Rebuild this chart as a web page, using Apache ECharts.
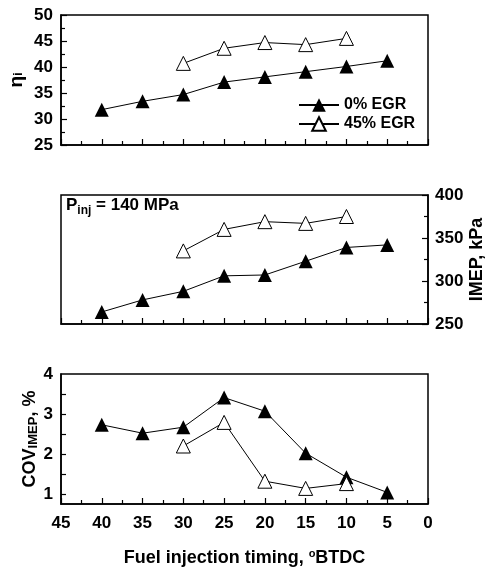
<!DOCTYPE html>
<html><head><meta charset="utf-8">
<script src="https://cdn.jsdelivr.net/npm/echarts@6/dist/echarts.min.js"></script>
<style>html,body{margin:0;padding:0;background:#fff}#c{width:486px;height:570px}</style>
</head><body><div id="c"></div>
<script>
// Data
const timing0 = [40, 35, 30, 25, 20, 15, 10, 5];
const timing45 = [30, 25, 20, 15, 10];
const eta0 = [31.8, 33.4, 34.7, 37.1, 38.1, 39.1, 40.1, 41.2];
const eta45 = [40.7, 43.6, 44.7, 44.3, 45.5];
const imep0 = [264, 278, 288, 306, 307, 323, 339, 342];
const imep45 = [335, 360, 369, 367, 375];
const cov0 = [2.73, 2.52, 2.67, 3.41, 3.07, 2.02, 1.42, 1.04];
const cov45 = [2.2, 2.79, 1.32, 1.14, 1.26];
const covLabels = [1, 2, 3, 4];
const covTicks = [1, 1.5, 2, 2.5, 3, 3.5];
const seriesNames = ['0% EGR', '45% EGR'];

const F = '"Liberation Sans", Arial, sans-serif';
const black = '#000';
const zip = (xs, ys) => xs.map((x, i) => [x, ys[i]]);

const axisLine = {show: true, onZero: false, lineStyle: {color: black, width: 1.5}};
const tick = {show: true, inside: true, length: 6, lineStyle: {color: black, width: 1.2}};
const minor = {show: true, splitNumber: 2, length: 4, lineStyle: {color: black, width: 1.2}};
const lbl = {color: black, fontFamily: F, fontWeight: 'bold', fontSize: 17};

const grids = [
  {left: 61, right: 58, top: 15, height: 130},
  {left: 61, right: 58, top: 195, height: 129},
  {left: 61, right: 58, top: 374, height: 130}
].map(g => Object.assign(g, {show: true, borderColor: black, borderWidth: 1.5, backgroundColor: 'transparent', containLabel: false, outerBoundsMode: 'none'}));

const xAxes = [0, 1, 2].map(i => ({
  gridIndex: i, type: 'value', min: 0, max: 45, interval: 5, inverse: true,
  axisLine, axisTick: tick, minorTick: minor,
  splitLine: {show: false}, minorSplitLine: {show: false},
  axisLabel: Object.assign({show: i === 2, margin: 11}, lbl),
  name: i === 2 ? '{t|Fuel injection timing, }{o|o}{t|BTDC}' : '',
  nameLocation: 'middle', nameGap: 44,
  nameTextStyle: {rich: {
    t: {fontFamily: F, fontWeight: 'bold', fontSize: 18, color: black},
    o: {fontFamily: F, fontWeight: 'bold', fontSize: 11, color: black, padding: [0, 0, 9, 0]}
  }}
}));

const yAxes = [
  {gridIndex: 0, type: 'value', position: 'left', min: 25, max: 50, interval: 5,
   axisLine, axisTick: tick, minorTick: minor, splitLine: {show: false},
   axisLabel: Object.assign({margin: 8}, lbl),
   name: '{e|η}{s|i}', nameLocation: 'middle', nameRotate: 90, nameGap: 31, nameMoveOverlap: false,
   nameTextStyle: {rich: {
     e: {fontFamily: F, fontWeight: 'bold', fontSize: 19, color: black, padding: [0, 0, 4, 0]},
     s: {fontFamily: F, fontWeight: 'bold', fontSize: 13, color: black}
   }}},
  {gridIndex: 1, type: 'value', position: 'right', min: 250, max: 400, interval: 50,
   axisLine, axisTick: tick, minorTick: minor, splitLine: {show: false},
   axisLabel: Object.assign({margin: 7}, lbl),
   name: 'IMEP, kPa', nameLocation: 'middle', nameRotate: 90, nameGap: 40, nameMoveOverlap: false,
   nameTextStyle: {fontFamily: F, fontWeight: 'bold', fontSize: 18, color: black}},
  {gridIndex: 2, type: 'value', position: 'left', min: 0.75, max: 4,
   axisLine,
   axisTick: Object.assign({}, tick, {length: 5, customValues: covTicks}),
   splitLine: {show: false},
   axisLabel: Object.assign({margin: 8, customValues: covLabels}, lbl),
   name: '{c|COV}{s|IMEP}{c|, %}', nameLocation: 'middle', nameRotate: 90, nameGap: 15, nameMoveOverlap: false,
   nameTextStyle: {rich: {
     c: {fontFamily: F, fontWeight: 'bold', fontSize: 18, color: black, padding: [0, 0, 7, 0]},
     s: {fontFamily: F, fontWeight: 'bold', fontSize: 13, color: black}
   }}}
];

function mk(name, idx, xs, ys) {
  const open = name === seriesNames[1];
  return {
    type: 'line', name, xAxisIndex: idx, yAxisIndex: idx, data: zip(xs, ys),
    symbol: 'triangle', symbolSize: 14, showAllSymbol: true,
    itemStyle: open ? {color: '#fff', borderColor: black, borderWidth: 1} : {color: black, borderColor: black, borderWidth: 0},
    lineStyle: {color: black, width: 1},
    emphasis: {disabled: true}, z: 3
  };
}

const option = {
  animation: false,
  backgroundColor: '#fff',
  grid: grids, xAxis: xAxes, yAxis: yAxes,
  title: {
    text: '{p|P}{s|inj}{p| = 140 MPa}', left: 66, top: 197, padding: 0,
    textStyle: {rich: {
      p: {fontFamily: F, fontWeight: 'bold', fontSize: 17, color: black, padding: [0, 0, 10, 0]},
      s: {fontFamily: F, fontWeight: 'bold', fontSize: 12, color: black}
    }}
  },
  legend: {
    data: seriesNames, orient: 'vertical', left: 298, top: 97, padding: 0,
    itemWidth: 40, itemHeight: 17, itemGap: 3,
    textStyle: {fontFamily: F, fontWeight: 'bold', fontSize: 16, color: black},
    selectedMode: false
  },
  series: [
    mk(seriesNames[0], 0, timing0, eta0),
    mk(seriesNames[1], 0, timing45, eta45),
    mk(seriesNames[0], 1, timing0, imep0),
    mk(seriesNames[1], 1, timing45, imep45),
    mk(seriesNames[0], 2, timing0, cov0),
    mk(seriesNames[1], 2, timing45, cov45)
  ]
};
const chart = echarts.init(document.getElementById('c'), null, {renderer: 'canvas'});
chart.setOption(option);
</script></body></html>
